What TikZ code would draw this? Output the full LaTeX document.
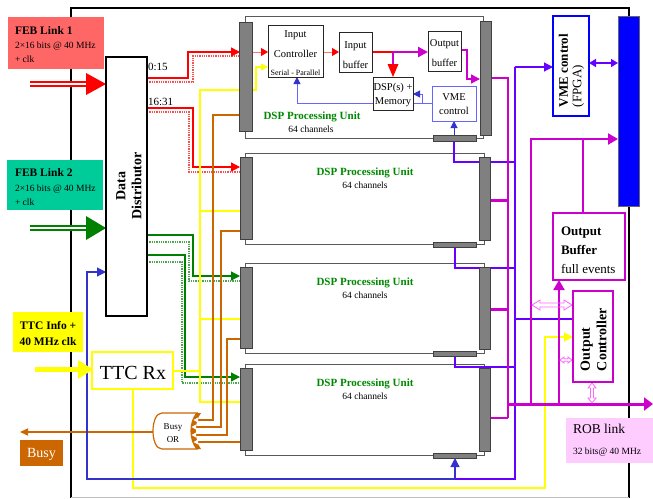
\documentclass[tikz,border=0pt]{standalone}
\usepackage{fontspec}
\setmainfont{Liberation Serif}
\usetikzlibrary{arrows.meta}
\definecolor{cfebred}{HTML}{FF6666}
\definecolor{cfebgreen}{HTML}{00CC99}
\definecolor{cred}{HTML}{FF0000}
\definecolor{cpred}{HTML}{FF7070}
\definecolor{cgreen}{HTML}{008000}
\definecolor{cdspg}{HTML}{008800}
\definecolor{cyel}{HTML}{FFFF00}
\definecolor{cor}{HTML}{CC6600}
\definecolor{cmag}{HTML}{CC00CC}
\definecolor{cvio}{HTML}{6600FF}
\definecolor{cbl}{HTML}{3333CC}
\definecolor{clbl}{HTML}{6666FF}
\definecolor{cbarg}{HTML}{808080}
\definecolor{cpinkb}{HTML}{FFCCFF}
\definecolor{chpink}{HTML}{FF66FF}
\definecolor{cvmeblue}{HTML}{0000FF}
\newcommand{\fsz}[1]{\fontsize{#1}{#1}\selectfont}
\newcommand{\myharrow}[6]{%
  \draw[chpink, line width=0.8pt] (#1,#3) -- ({#1+#4},{#3-#5}) -- ({#1+#4},{#3-#6}) -- ({#2-#4},{#3-#6}) -- ({#2-#4},{#3-#5}) -- (#2,#3) -- ({#2-#4},{#3+#5}) -- ({#2-#4},{#3+#6}) -- ({#1+#4},{#3+#6}) -- ({#1+#4},{#3+#5}) -- cycle;}
\newcommand{\myvarrow}[6]{%
  \draw[chpink, line width=0.8pt] (#3,#1) -- ({#3-#5},{#1+#4}) -- ({#3-#6},{#1+#4}) -- ({#3-#6},{#2-#4}) -- ({#3-#5},{#2-#4}) -- (#3,#2) -- ({#3+#5},{#2-#4}) -- ({#3+#6},{#2-#4}) -- ({#3+#6},{#1+#4}) -- ({#3+#5},{#1+#4}) -- cycle;}
\begin{document}
\begin{tikzpicture}[x=1pt,y=-1pt,
  every node/.style={inner sep=0pt, outer sep=0pt},
  box/.style={anchor=north west, inner sep=0pt, outer sep=0pt},
  tbase/.style={anchor=base west},
  tcen/.style={anchor=base},
  unitout/.style={draw=black!65, line width=0.8pt},
  barst/.style={draw=black!75, fill=cbarg, line width=0.8pt},
  ibox/.style={box, draw=black!85, fill=white, line width=0.7pt},
  redsol/.style={cred, line width=1.3pt},
  reddot/.style={cred!70, line width=1.3pt, densely dotted},
  grnsol/.style={cgreen, line width=1.3pt},
  grndot/.style={cgreen!70, line width=1.3pt, densely dotted},
  yelw/.style={cyel, line width=1.6pt},
  orw/.style={cor, line width=1.2pt},
  violw/.style={cvio, line width=1.2pt},
  tipbig/.style={-{Triangle[length=9pt,width=9pt]}},
  tipmid/.style={-{Triangle[length=7pt,width=7pt]}},
  dsptitle/.style={tcen, text=cdspg, font=\bfseries\fsz{11}},
  dspsub/.style={tcen, font=\fsz{9.5}}
]
\useasboundingbox (0,0) rectangle (653,498);
% frame
\draw[line width=2pt] (71,498) -- (71,8) -- (629,8) -- (629,498);
\draw[black!25, line width=0.8pt] (71,497) -- (629,497);

% unit outlines
\draw[unitout] (245,16) rectangle (483,138);
\foreach \ty/\by in {153/244,263/353,364/455}{\draw[unitout] (245,\ty) rectangle (484,\by);}

% red buses
\draw[reddot] (147,82) -- (193,82) -- (193,56) -- (239,56);
\draw[redsol, tipbig] (147,78) -- (188,78) -- (188,52) -- (240,52);
\draw[reddot] (147,112) -- (189,112) -- (189,172) -- (240,172);
\draw[redsol, tipbig] (147,108) -- (193,108) -- (193,167) -- (240,167);
% green buses
\draw[grndot] (147,242) -- (189,242) -- (189,281) -- (240,281);
\draw[grnsol, tipbig] (147,235) -- (193,235) -- (193,276) -- (240,276);
\draw[grndot] (147,262) -- (182,262) -- (182,383) -- (240,383);
\draw[grnsol, tipbig] (147,255) -- (185,255) -- (185,377) -- (240,377);

% yellow TTC distribution
\draw[yelw] (173,371) -- (200,371);
\draw[yelw] (240,90) -- (200,90) -- (200,402) -- (240,402);
\draw[yelw] (200,211) -- (240,211);
\draw[yelw] (200,319) -- (240,319);
\draw[yelw, tipbig] (133,389) -- (133,488) -- (545,488) -- (545,337) -- (573,337);

% orange busy lines
\draw[orw] (240,115) -- (213,115) -- (213,420) -- (195,420);
\draw[orw] (240,231) -- (221,231) -- (221,427) -- (194,427);
\draw[orw] (240,339) -- (227,339) -- (227,435) -- (194,435);
\draw[orw] (240,442) -- (195,442);
\draw[orw, -{Triangle[length=8pt,width=7pt]}] (153,432) -- (20,432);

% purple VME lines
\draw[violw] (454,141) -- (454,162) -- (515,162);
\draw[violw] (455,247) -- (455,268) -- (515,268);
\draw[violw] (455,356) -- (455,367) -- (515,367);
\draw[violw] (515,319) -- (573,319);
\draw[violw] (515,67) -- (515,479) -- (455,479);
\draw[violw, tipbig] (515,67) -- (553,67);
\draw[cvio, line width=1.5pt, {Triangle[length=7pt,width=8pt]}-{Triangle[length=7pt,width=8pt]}] (589,63) -- (618,63);
\draw[cbl, line width=1.2pt, tipbig] (455,479) -- (87,479) -- (87,272) -- (106,272);
\draw[cbl, line width=1.2pt, tipbig] (455,479) -- (455,458);
\draw[cbl, line width=1pt, tipmid] (454,135) -- (454,121);

% magenta output lines
\draw[cmag, line width=2pt] (491,78) -- (508,78) -- (508,418);
\draw[cmag, line width=1.5pt] (490,418) -- (508,418);
\draw[cmag, line width=3pt] (490,200) -- (508,200);
\draw[cmag, line width=3pt] (490,309) -- (508,309);
\draw[cmag, line width=3pt, -{Triangle[length=9pt,width=13pt]}] (507,404) -- (653,404);
\draw[cmag, line width=2pt] (531,404) -- (531,138);
\draw[cmag, line width=2pt, -{Triangle[length=10pt,width=11pt]}] (530,139) -- (618,139);
\draw[cmag, line width=1.2pt] (583,139) -- (583,213);
\draw[cmag, line width=2pt, -{Triangle[length=10pt,width=11pt]}] (559,404) -- (559,280);

% hollow pink arrows
\myharrow{532}{572}{305}{8}{5}{2}
\myharrow{560}{572}{360}{4}{3}{1.3}
\myvarrow{383}{403}{592}{5}{4}{1.5}

% unit 1 internal connections
\draw[cpred, line width=1pt, -{Triangle[length=7pt,width=8pt,color=cred]}] (252,52) -- (268,52);
\draw[cpred, line width=1pt, -{Triangle[length=7pt,width=8pt,color=cred]}] (323,52) -- (339,52);
\draw[cyel, line width=1.5pt, tipmid] (252,90) -- (256,90) -- (256,67) -- (268,67);
\draw[cred, line width=2.2pt] (372,52) -- (393,52);
\draw[cmag, line width=2.2pt, -{Triangle[length=10pt,width=10pt]}] (393,52) -- (428,52);
\draw[cmag, line width=1.5pt] (393,52) -- (393,66);
\fill[cred] (387.5,64) -- (398.5,64) -- (393,77) -- cycle;
\draw[cmag, line width=1.5pt, tipbig] (461,50) -- (467,50) -- (467,79) -- (480,79);
\draw[clbl, line width=1pt, -{Triangle[length=7pt,width=7pt,color=cbl]}] (432,103) -- (297,103) -- (297,77);
\draw[clbl, line width=1pt, -{Triangle[length=7pt,width=7pt,color=cbl]}] (422,103) -- (422,94) -- (413,94);

% bars
\draw[barst] (239,22) rectangle (252,131);
\draw[barst] (480,21) rectangle (491,135);
\draw[barst] (433,135) rectangle (476,141);
\foreach \ty/\by in {153/244,263/353,364/455}{
  \draw[barst] (240,{\ty+4}) rectangle (252,{\by-5});
  \draw[barst] (479,{\ty+4}) rectangle (490,{\by-4});
  \draw[barst] (433,{\by-2}) rectangle (476,{\by+3});
  \node[dsptitle] (t\ty) at (365,{\ty+22}) {DSP Processing Unit};
  \node[dspsub] (s\ty) at (365,{\ty+35}) {64 channels};
}

% unit 1 internal boxes
\node[ibox, minimum width=55pt, minimum height=52pt] (inctl) at (268,25) {};
\node[tcen, font=\fsz{10.5}] (inctla) at (295.5,37) {Input};
\node[tcen, font=\fsz{10.5}] (inctlb) at (295.5,57) {Controller};
\node[tcen, font=\fsz{8}] (inctlc) at (295.5,75) {Serial - Parallel};
\node[ibox, minimum width=33pt, minimum height=40pt] (inbuf) at (339,32) {};
\node[tcen, font=\fsz{10.5}] (inbufa) at (355.5,48) {Input};
\node[tcen, font=\fsz{10.5}] (inbufb) at (355.5,68) {buffer};
\node[ibox, minimum width=33pt, minimum height=40pt] (outbuf) at (428,31) {};
\node[tcen, font=\fsz{10.5}] (outbufa) at (444.5,46) {Output};
\node[tcen, font=\fsz{10.5}] (outbufb) at (444.5,66) {buffer};
\node[ibox, minimum width=40pt, minimum height=33pt] (dspm) at (373,77) {};
\node[tcen, font=\fsz{10.5}] (dspma) at (393,90) {DSP(s) +};
\node[tcen, font=\fsz{10.5}] (dspmb) at (393,104) {Memory};
\node[ibox, draw=clbl, minimum width=44pt, minimum height=35pt] (vmec) at (432,86) {};
\node[tcen, font=\fsz{10.5}] (vmeca) at (454,100.5) {VME};
\node[tcen, font=\fsz{10.5}] (vmecb) at (454,114) {control};
\node[tcen, text=cdspg, font=\bfseries\fsz{11}] (u1t) at (312,119) {DSP Processing Unit};
\node[tcen, font=\fsz{9.5}] (u1s) at (311,132) {64 channels};

% FEB link 1
\node[box, fill=cfebred, minimum width=96pt, minimum height=52pt] (feb1) at (8,17) {};
\node[tbase, font=\bfseries\fsz{11.5}] (feb1a) at (15,34) {FEB Link 1};
\node[tbase, font=\fsz{9.5}] (feb1b) at (15,48) {2×16 bits @ 40 MHz};
\node[tbase, font=\fsz{9.5}] (feb1c) at (15,62) {+ clk};
\draw[cred, line width=2.2pt, double=white, double distance=1.5pt] (30,84) -- (88,84);
\fill[cred] (86,73) -- (106,84) -- (86,95) -- cycle;

% FEB link 2
\node[box, fill=cfebgreen, minimum width=96pt, minimum height=50pt] (feb2) at (7,160) {};
\node[tbase, font=\bfseries\fsz{11.5}] (feb2a) at (15,176.5) {FEB Link 2};
\node[tbase, font=\fsz{9.5}] (feb2b) at (15,191) {2×16 bits @ 40 MHz};
\node[tbase, font=\fsz{9.5}] (feb2c) at (15,205) {+ clk};
\draw[cgreen, line width=2.2pt, double=white, double distance=1.5pt] (30,228) -- (88,228);
\fill[cgreen] (86,216) -- (106,228) -- (86,240) -- cycle;

% data distributor
\node[box, draw, fill=white, line width=1.5pt, minimum width=41pt, minimum height=259pt] (dd) at (106,57) {};
\node[rotate=90, align=center, font=\bfseries\fontsize{14}{16}\selectfont] (ddtxt) at (129,186) {Data\\Distributor};
\node[tbase, font=\fsz{11}] (l015) at (148,70) {0:15};
\node[tbase, font=\fsz{11}] (l1631) at (148,105) {16:31};

% TTC
\node[box, fill=cyel, minimum width=70pt, minimum height=40pt] (ttcinfo) at (13,312) {};
\node[tcen, font=\bfseries\fsz{11.5}] (ttca) at (48,329) {TTC Info +};
\node[tcen, font=\bfseries\fsz{11.5}] (ttcb) at (48,345.5) {40 MHz clk};
\draw[cyel, line width=4.5pt] (35,369.5) -- (80,369.5);
\fill[cyel] (78,360) -- (93,369.5) -- (78,379) -- cycle;
\node[box, draw=cyel, fill=white, line width=2pt, minimum width=81pt, minimum height=37pt] (ttcrx) at (92,352) {};
\node[tcen, font=\fsz{20}] (ttcrxt) at (133,379) {TTC Rx};

% busy
\node[box, fill=cor, minimum width=43pt, minimum height=26pt] (busy) at (20,440) {};
\node[tcen, text=white, font=\fsz{14}] (busyt) at (41.5,457.5) {Busy};
\draw[cor, line width=1.2pt, fill=white] (162,413) -- (197,413) .. controls (189,422) and (189,440) .. (197,449) -- (162,449) .. controls (150,449) and (150,413) .. (162,413) -- cycle;
\fill[cor] (197,413) .. controls (189,422) and (189,440) .. (197,449) -- (201,449) .. controls (194,440) and (194,422) .. (201,413) -- cycle;
\foreach \yy/\xx in {420/193.5,427/191.5,435/191.5,442/193.5}{
  \fill[white] ({\xx+4.5},{\yy-2.5}) -- (\xx,\yy) -- ({\xx+4.5},{\yy+2.5}) -- cycle;}
\node[tcen, font=\fsz{9}] (bora) at (173,429) {Busy};
\node[tcen, font=\fsz{9}] (borb) at (173,442.5) {OR};

% right side boxes
\node[box, fill=cvmeblue, draw=black!60, line width=0.8pt, minimum width=21pt, minimum height=190pt] (vmebus) at (618,16) {};
\node[box, draw=cvmeblue, fill=white, line width=1.5pt, minimum width=36pt, minimum height=100pt] (vmef) at (553,16) {};
\node[rotate=90, anchor=west, align=left, font=\fontsize{13}{13.5}\selectfont] (vmeftxt) at (571.5,107) {\textbf{VME control}\\(FPGA)};
\node[box, draw=cmag, fill=white, line width=1.5pt, minimum width=72pt, minimum height=67pt] (obufbox) at (553,213) {};
\node[tbase, font=\bfseries\fsz{13}] (obufa) at (561,235) {Output};
\node[tbase, font=\bfseries\fsz{13}] (obufb) at (561,254) {Buffer};
\node[tbase, font=\fsz{13}] (obufc) at (561,273) {full events};
\node[box, draw=cmag, fill=white, line width=1.5pt, minimum width=40pt, minimum height=91pt] (octl) at (573,291) {};
\node[rotate=90, anchor=west, align=left, font=\bfseries\fontsize{14}{16.5}\selectfont] (octltxt) at (593.5,371) {Output\\Controller};
\node[box, fill=cpinkb, minimum width=87pt, minimum height=45pt] (rob) at (566,418) {};
\node[tbase, font=\fsz{13.5}] (roba) at (573,433) {ROB link};
\node[tbase, font=\fsz{9.5}] (robb) at (573,454) {32 bits@ 40 MHz};
\end{tikzpicture}
\end{document}
